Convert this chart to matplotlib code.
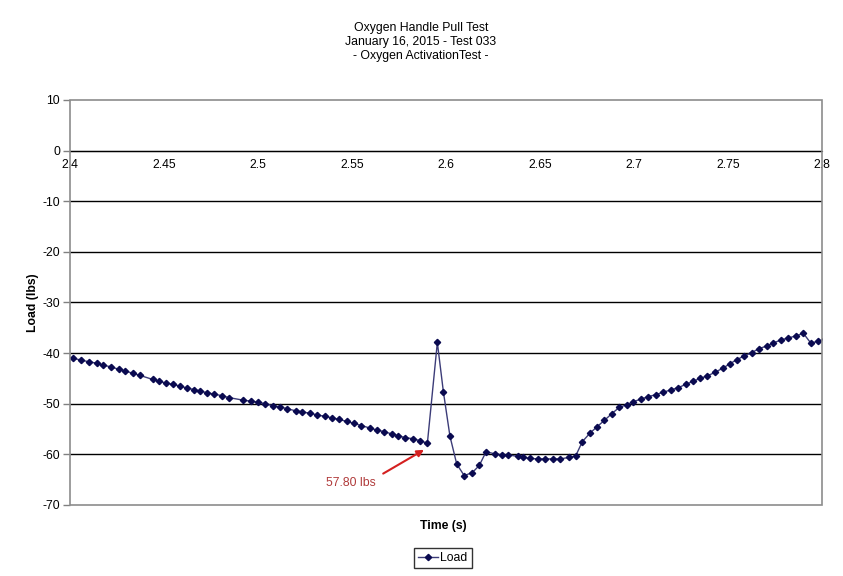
import numpy as np
import matplotlib
matplotlib.use("Agg")
import matplotlib.pyplot as plt
from matplotlib.patches import Rectangle
from matplotlib.lines import Line2D

plt.rcParams['font.family'] = ['Liberation Sans', 'DejaVu Sans']
plt.rcParams['axes.unicode_minus'] = False

# load readings taken off the chart (time in s, load in lbs)
time = [2.3980, 2.4018, 2.4059, 2.4101, 2.4142, 2.4177, 2.4218, 2.4259, 2.4294,
        2.4334, 2.4372, 2.4440, 2.4475, 2.4511, 2.4548, 2.4585, 2.4622, 2.4660,
        2.4691, 2.4727, 2.4766, 2.4807, 2.4847, 2.4922, 2.4963, 2.5002, 2.5039,
        2.5078, 2.5117, 2.5156, 2.5201, 2.5236, 2.5277, 2.5315, 2.5356, 2.5395,
        2.5432, 2.5472, 2.5511, 2.5548, 2.5596, 2.5631, 2.5670, 2.5714, 2.5746,
        2.5782, 2.5823, 2.5862, 2.5901, 2.5954, 2.5986, 2.6021, 2.6057, 2.6097,
        2.6140, 2.6177, 2.6213, 2.6261, 2.6296, 2.6331, 2.6381, 2.6408, 2.6447,
        2.6488, 2.6528, 2.6568, 2.6606, 2.6656, 2.6690, 2.6725, 2.6766, 2.6802,
        2.6842, 2.6881, 2.6922, 2.6961, 2.6996, 2.7036, 2.7076, 2.7117, 2.7156,
        2.7195, 2.7236, 2.7275, 2.7312, 2.7351, 2.7390, 2.7431, 2.7471, 2.7511,
        2.7546, 2.7585, 2.7626, 2.7666, 2.7706, 2.7741, 2.7782, 2.7821, 2.7862,
        2.7901, 2.7940, 2.7977, 2.8016]
load = [-40.9, -41.0, -41.4, -41.7, -42.0, -42.4, -42.7, -43.2, -43.5,
        -44.0, -44.4, -45.2, -45.6, -45.9, -46.2, -46.5, -46.9, -47.2,
        -47.5, -47.8, -48.1, -48.4, -48.8, -49.3, -49.5, -49.7, -50.0,
        -50.4, -50.6, -51.0, -51.4, -51.6, -51.9, -52.2, -52.5, -52.8,
        -53.1, -53.5, -53.9, -54.3, -54.8, -55.2, -55.5, -56.0, -56.3,
        -56.7, -56.9, -57.3, -57.8, -37.9, -47.6, -56.4, -61.9, -64.2,
        -63.6, -62.2, -59.5, -59.9, -60.1, -60.1, -60.4, -60.6, -60.8,
        -60.9, -60.9, -60.9, -60.9, -60.6, -60.3, -57.5, -55.8, -54.6,
        -53.3, -52.0, -50.7, -50.2, -49.6, -49.1, -48.6, -48.2, -47.7,
        -47.3, -46.8, -46.2, -45.6, -45.0, -44.5, -43.8, -43.0, -42.1,
        -41.3, -40.6, -39.9, -39.1, -38.6, -38.0, -37.4, -37.0, -36.6,
        -36.1, -38.0, -37.7, -37.2]

xticks = [2.4, 2.45, 2.5, 2.55, 2.6, 2.65, 2.7, 2.75, 2.8]
xlabels = ["2.4", "2.45", "2.5", "2.55", "2.6", "2.65", "2.7", "2.75", "2.8"]
yticks = [10, 0, -10, -20, -30, -40, -50, -60, -70]

fig = plt.figure(figsize=(8.43, 5.76), dpi=100)
ax = fig.add_axes([0.0830, 0.1233, 0.8921, 0.7031])

for s in ax.spines.values():
    s.set_visible(False)

# horizontal grid lines (black, Excel style)
for yv in yticks[1:-1]:
    ax.axhline(yv, color="black", lw=1.0, zorder=1)

ax.plot(time, load, color="#3c3c78", lw=1.0, marker="D", markersize=3.2,
        markerfacecolor="#0a0a50", markeredgecolor="#0a0a50", zorder=3)

ax.set_xlim(2.4, 2.8)
ax.set_ylim(-70, 10)

# x axis crosses at zero
ax.spines['bottom'].set_visible(True)
ax.spines['bottom'].set_position(('data', 0))
ax.spines['bottom'].set_color("black")
ax.set_xticks(xticks)
ax.set_xticklabels(xlabels)
ax.tick_params(axis="x", length=0, pad=6, labelsize=8.8)
ax.set_yticks(yticks)
ax.tick_params(axis="y", length=5, color="#808080", width=1, pad=2, labelsize=8.8)

# gray plot-area border
ax.add_patch(Rectangle((0, 0), 1, 1, transform=ax.transAxes, fill=False,
                       edgecolor="#8c8c8c", lw=1.2, zorder=4, clip_on=False))

# annotation arrow for the pre-peak load
ax.annotate("", xy=(2.5883, -59.1), xytext=(2.5666, -63.8),
            arrowprops=dict(arrowstyle="-|>", color="#d42020", lw=1.5,
                            mutation_scale=10, shrinkA=0, shrinkB=0))
ax.text(2.5493, -65.6, "57.80 lbs", color="#b03a3a", fontsize=8.8,
        ha="center", va="center")

fig.text(0.4994, 1 - 28 / 576, "Oxygen Handle Pull Test", ha="center", va="center", fontsize=8.8)
fig.text(0.4994, 1 - 42 / 576, "January 16, 2015 - Test 033", ha="center", va="center", fontsize=8.8)
fig.text(0.4994, 1 - 56 / 576, "- Oxygen ActivationTest -", ha="center", va="center", fontsize=8.8)

fig.text(443 / 843, 1 - 526 / 576, "Time (s)", ha="center", va="center",
         fontsize=8.8, fontweight="bold")
fig.text(33 / 843, 1 - 303 / 576, "Load (lbs)", ha="center", va="center",
         fontsize=8.8, fontweight="bold", rotation=90)

handle = Line2D([], [], color="#3c3c78", lw=1.0, marker="D", markersize=3.2,
                markerfacecolor="#0a0a50", markeredgecolor="#0a0a50")
leg = fig.legend([handle], ["Load"], loc="center", bbox_to_anchor=(443 / 843, 1 - 558 / 576),
                 fontsize=8.8, frameon=True, fancybox=False, handlelength=1.6,
                 handletextpad=0.2, borderpad=0.35, borderaxespad=0)
leg.get_frame().set_edgecolor("black")
leg.get_frame().set_linewidth(1.0)

fig.savefig("out.png", dpi=100, facecolor="white")
